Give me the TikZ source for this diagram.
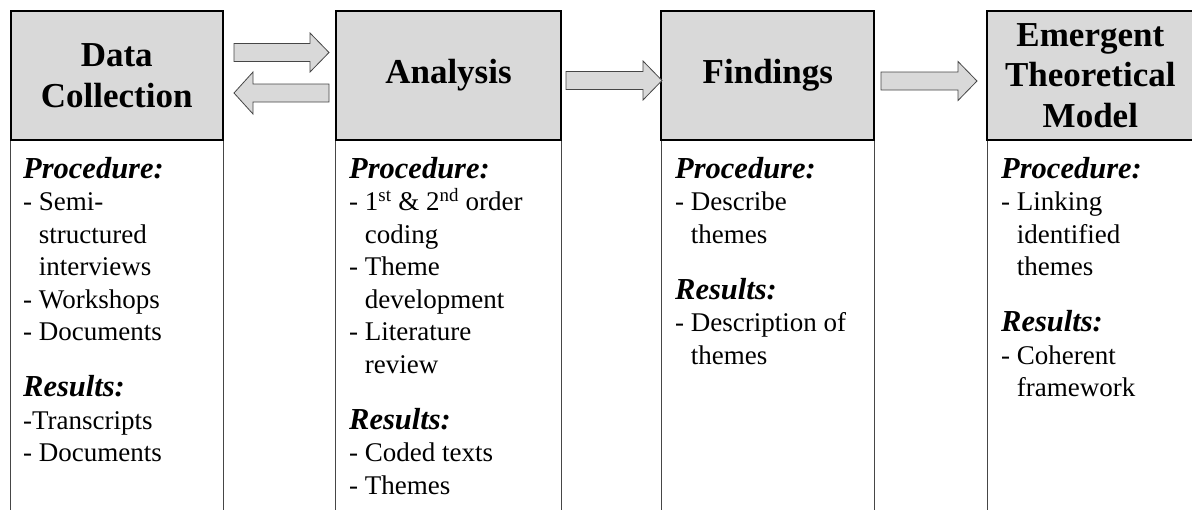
\documentclass[tikz,border=0pt]{standalone}
\usepackage{fontspec}
\setmainfont{Liberation Serif}
\usetikzlibrary{calc}
\definecolor{hdrgray}{RGB}{217,217,217}
\definecolor{arrgray}{RGB}{217,217,217}
\definecolor{linegray}{RGB}{70,70,70}
\tikzset{
  hdr/.style={draw=black, line width=1.4pt, fill=hdrgray, inner sep=0pt, align=center,
    minimum height=129pt, font=\fontsize{35}{40.5}\selectfont\bfseries},
  bodytxt/.style={anchor=base west, inner sep=0pt, text width=230pt, align=flush left,
    font=\fontsize{27}{32.5}\selectfont, execute at begin node={\lineskiplimit=-100pt\relax}},
  side/.style={draw=linegray, line width=1pt},
  blockarrow/.style={draw=linegray, fill=arrgray, line width=0.8pt, line join=miter},
}
\newcommand{\hd}[1]{{\fontsize{30.5}{32.5}\selectfont\bfseries\itshape #1}}
\newcommand{\ind}{\hphantom{- }}
% right-pointing block arrow from #1 to #2
\newcommand{\rblock}[2]{\draw[blockarrow] ($(#1)+(0,-9)$) -- ($(#2)+(-19,-9)$) -- ($(#2)+(-19,-19.5)$) -- (#2) -- ($(#2)+(-19,19.5)$) -- ($(#2)+(-19,9)$) -- ($(#1)+(0,9)$) -- cycle;}
% left-pointing block arrow from #1 (tail, right) to #2 (tip, left)
\newcommand{\lblock}[2]{\draw[blockarrow] ($(#1)+(0,-9)$) -- ($(#2)+(19,-9)$) -- ($(#2)+(19,-21)$) -- (#2) -- ($(#2)+(19,21)$) -- ($(#2)+(19,9)$) -- ($(#1)+(0,9)$) -- cycle;}
\begin{document}
\begin{tikzpicture}[x=1pt,y=-1pt]
\useasboundingbox (0,0) rectangle (1192,509);
\clip (0,0) rectangle (1192,509);

% headers
\node[hdr, minimum width=211.5pt] (h1) at (116.75,75.5) {Data\\Collection};
\node[hdr, minimum width=225pt] (h2) at (448.5,75.5) {Analysis};
\node[hdr, minimum width=212.3pt] (h3) at (767.85,75.5) {Findings};
\node[hdr, minimum width=205.3pt] (h4) at (1090.35,75.5) {Emergent\\Theoretical\\Model};

% body side lines
\foreach \b in {h1,h2,h3,h4}{
  \draw[side] (\b.south west) -- ++(0,400);
  \draw[side] (\b.south east) -- ++(0,400);
}
% redraw header borders on top
\foreach \b in {h1,h2,h3,h4}{
  \draw[black, line width=1.4pt] (\b.south west) rectangle (\b.north east);
}

% body texts
\node[bodytxt] (b1) at (23,178) {\hd{Procedure:}\\
- Semi-\\
\ind structured\\
\ind interviews\\
- Workshops\\
- Documents\\[23.5pt]
\hd{Results:}\\
-Transcripts\\
- Documents};

\node[bodytxt] (b2) at (349,178) {\hd{Procedure:}\\
- 1\textsuperscript{st} \& 2\textsuperscript{nd} order\\
\ind coding\\
- Theme\\
\ind development\\
- Literature\\
\ind review\\[23.5pt]
\hd{Results:}\\
- Coded texts\\
- Themes};

\node[bodytxt] (b3) at (675,178) {\hd{Procedure:}\\
- Describe\\
\ind themes\\[23.5pt]
\hd{Results:}\\
- Description of\\
\ind themes};

\node[bodytxt] (b4) at (1001,178) {\hd{Procedure:}\\
- Linking\\
\ind identified\\
\ind themes\\[23.5pt]
\hd{Results:}\\
- Coherent\\
\ind framework};

% block arrows
\coordinate (a1s) at (234,52.5);
\coordinate (a1e) at (329,52.5);
\coordinate (a2s) at (329,93);
\coordinate (a2e) at (234,93);
\coordinate (a3s) at (566,80.5);
\coordinate (a3e) at (662,80.5);
\coordinate (a4s) at (881,81);
\coordinate (a4e) at (977,81);
\rblock{a1s}{a1e}
\lblock{a2s}{a2e}
\rblock{a3s}{a3e}
\rblock{a4s}{a4e}
\end{tikzpicture}
\end{document}
